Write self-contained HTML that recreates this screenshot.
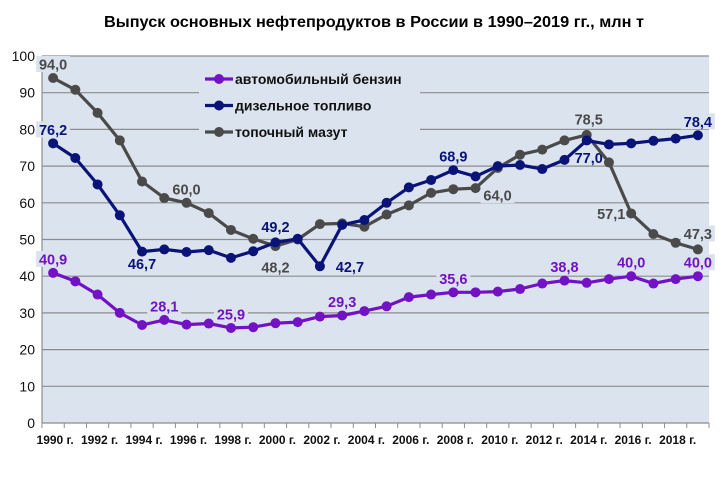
<!DOCTYPE html>
<html><head><meta charset="utf-8"><style>
body{margin:0;background:#fff;}
svg{display:block;font-family:"Liberation Sans",Arial,sans-serif;}
</style></head><body>
<svg id="chart" width="728" height="478" viewBox="0 0 728 478" xmlns="http://www.w3.org/2000/svg">
<text x="374" y="27" text-anchor="middle" font-size="16" font-weight="bold" textLength="540" lengthAdjust="spacingAndGlyphs">Выпуск основных нефтепродуктов в России в 1990–2019 гг., млн т</text>
<rect x="42" y="56" width="667" height="367" fill="#dbe3ee"/>
<g id="grid"></g><g id="axes"></g><g id="legendbg"></g><g id="labels"></g><g id="series"></g><g id="legend"></g>
</svg>
<script>
const years=[1990,1991,1992,1993,1994,1995,1996,1997,1998,1999,2000,2001,2002,2003,2004,2005,2006,2007,2008,2009,2010,2011,2012,2013,2014,2015,2016,2017,2018,2019];
const gasoline=[40.9,38.6,35,30,26.7,28.1,26.8,27.1,25.9,26.1,27.2,27.5,29,29.3,30.5,31.8,34.3,35,35.6,35.6,35.8,36.5,38,38.8,38.2,39.2,40,38,39.2,40];
const diesel=[76.2,72.2,65,56.6,46.7,47.3,46.6,47.1,45,46.8,49.2,50.2,42.7,54,55.3,60,64.2,66.2,68.9,67.2,70,70.3,69.2,71.7,77,75.9,76.2,76.9,77.5,78.4];
const mazut=[94,90.8,84.5,77,65.8,61.3,60,57.2,52.6,50.2,48.2,50,54.2,54.4,53.5,56.8,59.3,62.7,63.7,64,69.5,73.1,74.5,77,78.5,71,57.1,51.5,49.1,47.3];
const yTicks=[0,10,20,30,40,50,60,70,80,90,100];
const seriesNames=["автомобильный бензин","дизельное топливо","топочный мазут"];
const colors=["#7312c4","#0a1478","#4a4a4a"];
const labelColors=["#7312c4","#0a1478","#4a4a4a"];
// [seriesIndex, yearIndex, dx, dy]
const valueLabels=[[0,0,0,-14],[0,5,0,-14],[0,8,0,-14],[0,13,0,-14],[0,18,0,-14],[0,23,0,-14],[0,26,0,-14],[0,29,0,-14],
[1,0,0,-14],[1,4,0,12],[1,10,0,-16],[1,12,30,0],[1,18,0,-14],[1,24,2,17],[1,29,0,-14],
[2,0,0,-14],[2,6,0,-14],[2,10,0,21],[2,19,22,7],[2,24,2,-16],[2,26,-20,0],[2,29,0,-16]];
const svg=document.getElementById('chart');
const NS='http://www.w3.org/2000/svg';
const L=42,R=709,T=56,B=423;
const n=years.length,step=(R-L)/n;
const x=i=>L+step*(i+0.5);
const y=v=>B-(v/100)*(B-T);
function mk(tag,attrs,parent){const e=document.createElementNS(NS,tag);for(const k in attrs)e.setAttribute(k,attrs[k]);parent.appendChild(e);return e;}
const grid=document.getElementById('grid'),axes=document.getElementById('axes');
yTicks.forEach(t=>{
 if(t>0){const g=mk('line',{x1:L,x2:R,y1:y(t),y2:y(t),stroke:'#8c8c8c','stroke-width':1.2},grid);
 
 }
 const tx=mk('text',{x:L-7,y:y(t)+5,'text-anchor':'end','font-size':14,fill:'#111'},axes);
 
 
 tx.textContent=t;
});
const ax=mk('line',{x1:L,x2:R,y1:B,y2:B,stroke:'#8c8c8c','stroke-width':1.2},axes);


const ay=mk('line',{x1:L,x2:L,y1:T,y2:B,stroke:'#8c8c8c','stroke-width':1.2},axes);


for(let i=0;i<=n;i++){const tk=mk('line',{x1:L+step*i,x2:L+step*i,y1:B,y2:B+5,stroke:'#8c8c8c'},axes);
 
 }
years.forEach((yr,i)=>{if(i%2)return;
 const tx=mk('text',{x:x(i)+2,y:B+21,'text-anchor':'middle','font-size':12,'font-weight':'bold',fill:'#111'},axes);
 
 
 tx.textContent=yr+' г.';});
const lgbg=document.getElementById('legendbg');
const lb=mk('rect',{x:199,y:62,width:221,height:86,fill:'#dbe3ee'},lgbg);


const lg=document.getElementById('legend');
const all=[gasoline,diesel,mazut];
const sg=document.getElementById('series');
[2,1,0].forEach(s=>{
 const d=all[s].map((v,i)=>(i?'L':'M')+x(i).toFixed(1)+','+y(v).toFixed(1)).join('');
 const p=mk('path',{d:d,fill:'none',stroke:colors[s],'stroke-width':3.2,'stroke-linejoin':'round'},sg);
 
 
 all[s].forEach((v,i)=>{const c=mk('circle',{cx:x(i),cy:y(v),r:5,fill:colors[s]},sg);
  
  });
});
const lab=document.getElementById('labels');
valueLabels.forEach(([s,i,dx,dy])=>{
 const v=all[s][i];const txt=v.toFixed(1).replace('.',',');
 const cx=x(i)+dx,cy=y(v)+dy;
 const bg=mk('rect',{x:cx-17,y:cy-8,width:34,height:16,fill:'#dbe3ee'},lab);
 
 
 const t=mk('text',{x:cx,y:cy+5.5,'text-anchor':'middle','font-size':14.5,'font-weight':'bold',fill:labelColors[s]},lab);
 
 
 t.textContent=txt;
});
seriesNames.forEach((nm,k)=>{
 const yy=79+k*26.5;
 const ln=mk('line',{x1:205,x2:233,y1:yy,y2:yy,stroke:colors[k],'stroke-width':3.2},lg);
 
 
 const c=mk('circle',{cx:219,cy:yy,r:5,fill:colors[k]},lg);
 
 
 const t=mk('text',{x:235,y:yy+5,'font-size':14,'font-weight':'bold',fill:'#111'},lg);
 
 
 t.textContent=nm;
});
</script>
</body></html>
